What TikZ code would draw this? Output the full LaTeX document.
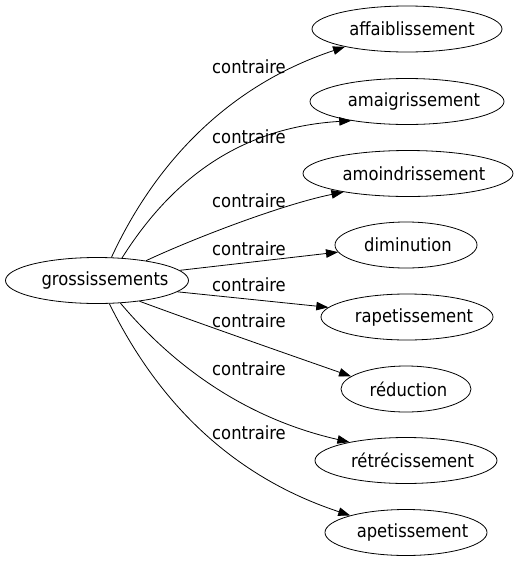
\documentclass[tikz,border=0pt]{standalone}
\usepackage{fontspec}
\setmainfont{DejaVu Sans Condensed}
\usetikzlibrary{arrows.meta,shapes.geometric}
\tikzset{
  term/.style={draw, ellipse, line width=0.8pt, inner sep=0pt, minimum height=46pt, font=\fontsize{18.2}{20}\selectfont},
  lbl/.style={inner sep=0pt, font=\fontsize{18.2}{20}\selectfont},
  edge/.style={line width=0.8pt, -{Triangle[length=12pt,width=8.5pt]}}
}
\newcommand{\tsh}[2]{\makebox[0pt]{\hspace*{\dimexpr 2\dimexpr #1pt\relax\relax}#2}}
\begin{document}
\begin{tikzpicture}[x=1pt,y=-1pt]
\useasboundingbox (0,0) rectangle (514,563);
\node[term, minimum width=183pt] (g) at (97,280.5) {\tsh{8}{grossissements}};
\node[term, minimum width=190pt] (a1) at (407,29) {\tsh{5}{affaiblissement}};
\node[term, minimum width=194pt] (a2) at (407,101.5) {\tsh{7}{amaigrissement}};
\node[term, minimum width=210pt] (a3) at (408,173.5) {\tsh{6}{amoindrissement}};
\node[term, minimum width=142pt] (a4) at (406,245) {\tsh{2}{diminution}};
\node[term, minimum width=172pt] (a5) at (407,317) {\tsh{7}{rapetissement}};
\node[term, minimum width=130pt] (a6) at (406,389) {\tsh{2.5}{réduction}};
\node[term, minimum width=182pt] (a7) at (406,460.5) {\tsh{6.5}{rétrécissement}};
\node[term, minimum width=162pt] (a8) at (406,532.5) {\tsh{6.5}{apetissement}};

\draw[edge] (g.58) .. controls (138,200) and (200,95) .. (a1.196);
\draw[edge] (g.42) .. controls (165,190) and (230,128) .. (a2.199);
\draw[edge] (g.22) .. controls (190,240) and (280,205) .. (a3.196);
\draw[edge] (g.7) -- (a4.186.6);
\draw[edge] (g.-8.4) -- (a5.173.7);
\draw[edge] (g.-26) .. controls (190,320) and (290,355) .. (a6.167.5);
\draw[edge] (g.-44) .. controls (160,350) and (230,415) .. (a7.162.6);
\draw[edge] (g.-62) .. controls (138,361) and (200,466) .. (a8.163.5);

\node[lbl] (l1) at (249,67) {contraire};
\node[lbl] (l2) at (249,137) {contraire};
\node[lbl] (l3) at (249,201) {contraire};
\node[lbl] (l4) at (249,249) {contraire};
\node[lbl] (l5) at (249,285) {contraire};
\node[lbl] (l6) at (249,321) {contraire};
\node[lbl] (l7) at (249,369) {contraire};
\node[lbl] (l8) at (249,433) {contraire};
\end{tikzpicture}
\end{document}
